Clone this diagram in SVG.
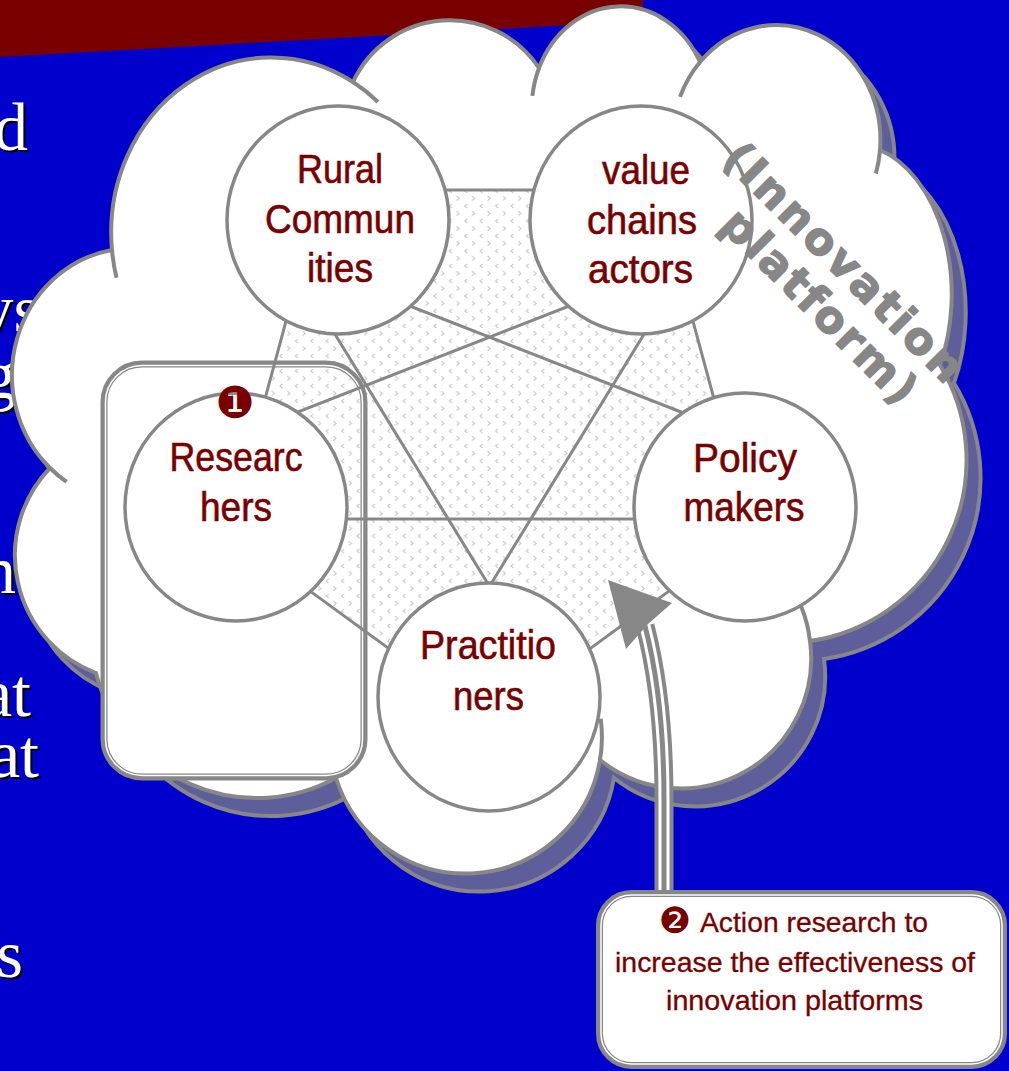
<svg xmlns="http://www.w3.org/2000/svg" width="1009" height="1071" viewBox="0 0 1009 1071">
  <defs>
    <style>
      .bg-text { font-family: "Liberation Serif", "DejaVu Serif", serif; font-size: 68px; text-anchor: end; }
      .outline { fill: none; stroke: #878787; stroke-width: 4; }
      .ring { fill: #ffffff; stroke: #878787; stroke-width: 3.5; }
      .label { font-family: "Liberation Sans Narrow", "Liberation Sans", Arial, sans-serif; font-size: 40px; fill: #780000; stroke: #780000; stroke-width: 0.6; text-anchor: middle; }
      .edge { fill: none; stroke: #878787; stroke-width: 3; }
      .frame-fill { fill: #ffffff; stroke: none; }
      .frame-outer { fill: none; stroke: #878787; stroke-width: 7; }
      .frame-inner { fill: none; stroke: #ffffff; stroke-width: 1.5; }
      .badge { font-family: "DejaVu Sans", sans-serif; fill: #780000; text-anchor: middle; }
      .platform { font-family: "DejaVu Sans", "Liberation Sans", sans-serif; font-weight: bold; font-size: 44px; fill: #878787; stroke: #878787; stroke-width: 1.4; stroke-linejoin: round; text-anchor: middle; }
      .note { font-family: "Liberation Sans Narrow", "Liberation Sans", Arial, sans-serif; font-size: 28px; fill: #780000; stroke: #780000; stroke-width: 0.3; text-anchor: middle; }
    </style>
    <!-- small chevron texture for the network area -->
    <pattern id="chevrons" width="15.4" height="15" patternUnits="userSpaceOnUse">
      <path d="M10.2 1.2 L12.6 3.4 L10.2 5.6 M5.2 8.8 L2.8 11 L5.2 13.2" fill="none" stroke="#c6c6c6" stroke-width="1.1"/>
    </pattern>
    <!-- cloud outline made of elliptical lobes, traced clockwise -->
    <path id="cloud-shape" d="M 112 250
      A 160 175 0 0 1 353 82
      A 107 107 0 0 1 539 68
      A 89 102 0 0 1 700 62
      A 104 115 0 0 1 880 150
      A 99 150 0 0 1 940 365
      A 183 183 0 0 1 810 641
      A 130 130 0 0 1 600 760
      A 136 136 0 0 1 336 778
      A 166 166 0 0 1 96 673
      A 126 126 0 0 1 50 468
      A 120 127 0 0 1 112 250 Z"/>
  </defs>

  <!-- slide background -->
  <rect x="0" y="0" width="1009" height="1071" fill="#0000cc"/>
  <polygon points="0,0 643,0 643,21 0,57" fill="#780000"/>

  <!-- body text of the slide, mostly hidden behind the cloud -->
  <g id="slide-text" class="bg-text">
    <g fill="#000000" transform="translate(2 2)">
      <text x="28" y="150">d</text>
      <text x="40" y="332">ys</text>
      <text x="16" y="398">g</text>
      <text x="16" y="593">n</text>
      <text x="31" y="716">at</text>
      <text x="39" y="777">at</text>
      <text x="23" y="977">s</text>
    </g>
    <g fill="#ffffff">
      <text x="28" y="150">d</text>
      <text x="40" y="332">ys</text>
      <text x="16" y="398">g</text>
      <text x="16" y="593">n</text>
      <text x="31" y="716">at</text>
      <text x="39" y="777">at</text>
      <text x="23" y="977">s</text>
    </g>
  </g>

  <!-- innovation platform cloud with drop shadow -->
  <g id="cloud">
    <use href="#cloud-shape" transform="translate(14 18)" fill="#5e5e9a" stroke="#878787" stroke-width="4"/>
    <use href="#cloud-shape" fill="#ffffff" stroke="#878787" stroke-width="4"/>
    <!-- short inner arcs where lobes overlap -->
    <path class="outline" d="M 112 250 A 160 175 0 0 0 116.5 277.7"/>
    <path class="outline" d="M 353 82 A 160 175 0 0 1 378 102"/>
    <path class="outline" d="M 539 68 A 89 102 0 0 0 532.4 95.9"/>
    <path class="outline" d="M 700 62 A 104 115 0 0 0 680 96.9"/>
    <path class="outline" d="M 880 150 A 104 115 0 0 1 875.9 173.6"/>
    <path class="outline" d="M 810 641 A 130 130 0 0 0 801 606"/>
    <path class="outline" d="M 600 760 A 136 136 0 0 0 600.7 718.7"/>
    <path class="outline" d="M 50 468 A 120 127 0 0 0 66.6 481.8"/>
  </g>

  <!-- frame around the researchers node -->
  <g id="researchers-frame">
    <rect class="frame-fill" x="104" y="364" width="260" height="413" rx="38"/>
  </g>

  <!-- textured network area -->
  <polygon id="network-area" points="321.5,190 657.5,190 750,532 489.5,722 229,532" fill="url(#chevrons)"/>

  <g id="researchers-frame-border">
    <rect class="frame-outer" x="104" y="364" width="260" height="413" rx="38"/>
    <rect class="frame-inner" x="105.5" y="365.5" width="257" height="410" rx="36.5"/>
  </g>

  <!-- links between the actors -->
  <g id="connectors">
    <polygon class="edge" points="321.5,190 657.5,190 750,532 489.5,722 229,532"/>
    <line class="edge" x1="338" y1="278" x2="745" y2="437"/>
    <line class="edge" x1="641" y1="278" x2="234" y2="437"/>
    <line class="edge" x1="314" y1="300" x2="504" y2="610"/>
    <line class="edge" x1="665" y1="300" x2="475" y2="610"/>
    <line class="edge" x1="236" y1="519" x2="745" y2="519"/>
  </g>

  <!-- actor nodes -->
  <g id="node-rural">
    <ellipse class="ring" cx="338" cy="220" rx="111" ry="114"/>
    <text class="label" x="340" y="183" textLength="86" lengthAdjust="spacingAndGlyphs">Rural</text>
    <text class="label" x="340" y="233" textLength="150" lengthAdjust="spacingAndGlyphs">Commun</text>
    <text class="label" x="340" y="282" textLength="66" lengthAdjust="spacingAndGlyphs">ities</text>
  </g>
  <g id="node-value-chains">
    <ellipse class="ring" cx="641" cy="220" rx="111" ry="114"/>
    <text class="label" x="646" y="184" textLength="88" lengthAdjust="spacingAndGlyphs">value</text>
    <text class="label" x="642" y="234" textLength="110" lengthAdjust="spacingAndGlyphs">chains</text>
    <text class="label" x="640.5" y="283" textLength="105" lengthAdjust="spacingAndGlyphs">actors</text>
  </g>
  <g id="node-policy">
    <ellipse class="ring" cx="745" cy="507" rx="111" ry="114"/>
    <text class="label" x="745" y="472" textLength="104" lengthAdjust="spacingAndGlyphs">Policy</text>
    <text class="label" x="744" y="521" textLength="121" lengthAdjust="spacingAndGlyphs">makers</text>
  </g>
  <g id="node-practitioners">
    <ellipse class="ring" cx="489" cy="697" rx="111" ry="114"/>
    <text class="label" x="488" y="659" textLength="136" lengthAdjust="spacingAndGlyphs">Practitio</text>
    <text class="label" x="488.5" y="710" textLength="71" lengthAdjust="spacingAndGlyphs">ners</text>
  </g>
  <g id="node-researchers">
    <ellipse class="ring" cx="236" cy="507" rx="111" ry="114"/>
    <text class="label" x="236" y="471" textLength="133" lengthAdjust="spacingAndGlyphs">Researc</text>
    <text class="label" x="236" y="521" textLength="72" lengthAdjust="spacingAndGlyphs">hers</text>
    <text class="badge" x="235" y="418" font-size="44">❶</text>
  </g>

  <!-- cloud title -->
  <g id="platform-title">
    <text class="platform" transform="translate(833 273) rotate(45)" textLength="318" lengthAdjust="spacing">(Innovation</text>
    <text class="platform" transform="translate(809 317) rotate(45)" textLength="255" lengthAdjust="spacing">platform)</text>
  </g>

  <!-- triple-line arrow from the note into the platform -->
  <g id="connector-arrow">
    <path d="M 664 894 L 664 800 C 664 730 657 672 645 626" fill="none" stroke="#878787" stroke-width="19"/>
    <path d="M 664 894 L 664 800 C 664 730 657 672 645 626" fill="none" stroke="#ffffff" stroke-width="11"/>
    <path d="M 664 894 L 664 800 C 664 730 657 672 645 626" fill="none" stroke="#878787" stroke-width="5"/>
    <polygon points="608,580 672,603 648,624 626,649" fill="#878787"/>
  </g>

  <!-- action research note -->
  <g id="note-action-research">
    <rect x="599.5" y="893.5" width="404" height="172" rx="32" fill="#ffffff" stroke="#878787" stroke-width="7"/>
    <rect x="601" y="895" width="401" height="169" rx="30.5" fill="none" stroke="#ffffff" stroke-width="1.5"/>
    <text class="badge" x="675" y="933" font-size="36">❷</text>
    <text class="note" x="814" y="932" textLength="228" lengthAdjust="spacingAndGlyphs">Action research to</text>
    <text class="note" x="795" y="972" textLength="360" lengthAdjust="spacingAndGlyphs">increase the effectiveness of</text>
    <text class="note" x="794.5" y="1010" textLength="257" lengthAdjust="spacingAndGlyphs">innovation platforms</text>
  </g>
</svg>
